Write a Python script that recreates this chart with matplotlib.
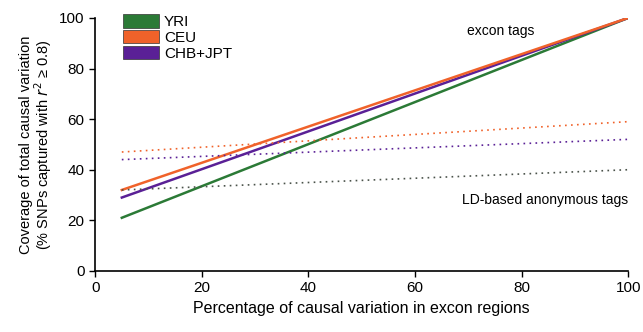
import matplotlib
matplotlib.use("Agg")
import matplotlib.pyplot as plt
from matplotlib.patches import Patch

plt.rcParams["font.family"] = ["Liberation Sans", "DejaVu Sans"]

# ── data ───────────────────────────────────────────────────────────────────
x_ends = [5, 100]

exon_yri = [21, 100]
exon_ceu = [32, 100]
exon_chb = [29, 100]

ld_yri = [32, 40]
ld_ceu = [47, 59]
ld_chb = [44, 52]

populations = ["YRI", "CEU", "CHB+JPT"]

# ── colours ────────────────────────────────────────────────────────────────
C_YRI = "#2b7a36"
C_CEU = "#f0622a"
C_CHB = "#5a2096"
C_YRI_DOT = "#4a524a"

fig = plt.figure(figsize=(6.43, 3.32), dpi=100)
ax = fig.add_axes([0.148, 0.184, 0.829, 0.762])

ax.plot(x_ends, exon_yri, color=C_YRI, lw=1.8)
ax.plot(x_ends, exon_chb, color=C_CHB, lw=1.8)
ax.plot(x_ends, exon_ceu, color=C_CEU, lw=1.8)

dots = (0, (1, 2.6))
ax.plot(x_ends, ld_ceu, color=C_CEU, lw=1.2, linestyle=dots)
ax.plot(x_ends, ld_chb, color=C_CHB, lw=1.2, linestyle=dots)
ax.plot(x_ends, ld_yri, color=C_YRI_DOT, lw=1.2, linestyle=dots)

ax.text(76, 95, "excon tags", fontsize=10, ha="center", va="center")
ax.text(100, 28, "LD-based anonymous tags", fontsize=10, ha="right", va="center")

ax.set_xlim(0, 100)
ax.set_ylim(0, 100)
ax.set_xticks([0, 20, 40, 60, 80, 100])
ax.set_yticks([0, 20, 40, 60, 80, 100])
ax.tick_params(labelsize=11, length=4, width=1)
for side in ("top", "right"):
    ax.spines[side].set_visible(False)
for side in ("left", "bottom"):
    ax.spines[side].set_linewidth(1.2)

ax.set_xlabel("Percentage of causal variation in excon regions", fontsize=11.5)
ax.set_ylabel("Coverage of total causal variation\n(% SNPs captured with $r^2$ ≥ 0.8)",
              fontsize=10.5, linespacing=0.95)

handles = [Patch(facecolor=c, edgecolor="#333333", lw=0.5, label=n)
           for c, n in zip([C_YRI, C_CEU, C_CHB], populations)]
ax.legend(handles=handles, loc="upper left", bbox_to_anchor=(0.04, 1.04),
          frameon=False, fontsize=11, handlelength=2.4, handleheight=1.0,
          handletextpad=0.3, labelspacing=0.05, borderaxespad=0)

fig.savefig("out.png", dpi=100)
